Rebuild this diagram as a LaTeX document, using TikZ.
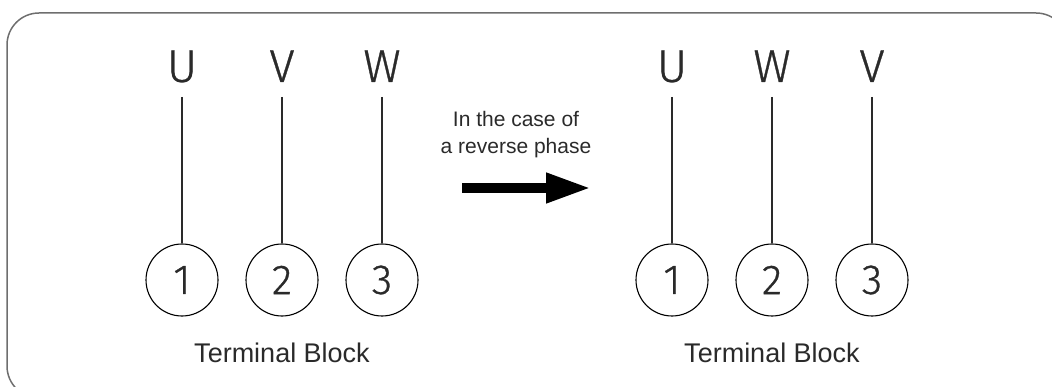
\documentclass[tikz,border=0pt]{standalone}
\usepackage{fontspec}
\setmainfont{Liberation Sans}
\newfontfamily\thinfont{Fira Sans Light}[RawFeature={embolden=0.7}]
\usetikzlibrary{arrows.meta, positioning}
\definecolor{FrameGray}{HTML}{6E6E6E}
\definecolor{InkGray}{HTML}{2A2A2A}

\begin{document}
\begin{tikzpicture}[
    x=1pt, y=-1pt,
    phase/.style={anchor=base, inner sep=0pt, font=\thinfont\fontsize{46}{46}\selectfont, text=InkGray},
    term/.style={circle, draw=black, line width=1.1pt, minimum size=72pt, inner sep=0pt,
      font=\thinfont\fontsize{42}{42}\selectfont, text=InkGray},
    lead/.style={draw=InkGray, line width=1.1pt},
    blocklab/.style={font=\fontsize{27}{27}\selectfont, text=InkGray},
    note/.style={font=\fontsize{21}{27}\selectfont, text=InkGray, align=center},
    swap/.style={line width=10pt, -{Triangle[length=45pt, width=28pt]}},
  ]
  \useasboundingbox (0,0) rectangle (1052,387);
  % --- frame (runs off the right and bottom) ---
  \draw[FrameGray, line width=1.5pt, rounded corners=32pt] (7,13) rectangle (1068,398);
  % --- left side: normal phase ---
  \foreach \n/\x/\ph in {1/182/U, 2/282/V, 3/382/W}{
    \node[phase] (lp\n) at (\x,82) {\ph};
    \node[term] (lt\n) at (\x,280) {\n};
    \draw[lead] (lp\n.base) ++(0,15) -- (lt\n.north);
  }
  \node[blocklab] (lblock) at (282,353) {Terminal Block};
  % --- right side: reverse phase ---
  \foreach \n/\x/\ph in {1/672/U, 2/772/W, 3/872/V}{
    \node[phase] (rp\n) at (\x,82) {\ph};
    \node[term] (rt\n) at (\x,280) {\n};
    \draw[lead] (rp\n.base) ++(0,15) -- (rt\n.north);
  }
  \node[blocklab] (rblock) at (772,353) {Terminal Block};
  % --- arrow between ---
  \node[note] (why) at (516,135) {In the case of\\a reverse phase};
  \coordinate (from) at (462,188);
  \coordinate (to) at (591,188);
  \draw[swap] (from) -- (to);
\end{tikzpicture}
\end{document}
